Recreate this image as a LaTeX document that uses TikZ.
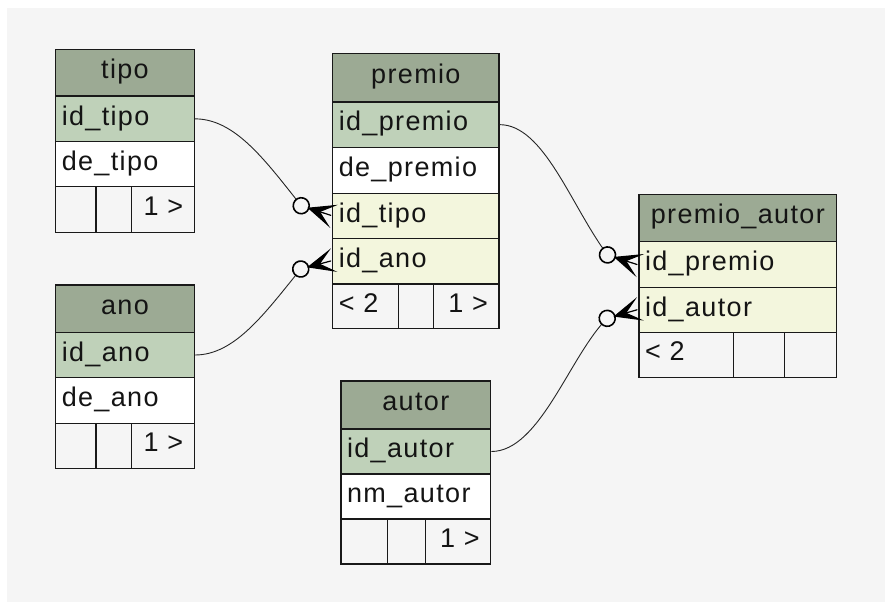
\documentclass[tikz,border=0pt]{standalone}
\usepackage{fontspec}
\setmainfont{Liberation Sans}[LetterSpace=5]
\definecolor{bgc}{HTML}{F5F5F5}
\definecolor{hdrc}{HTML}{9CAA94}
\definecolor{pkc}{HTML}{BFD1B9}
\definecolor{fkc}{HTML}{F3F6DD}
\definecolor{txtc}{HTML}{141414}
\tikzset{
  rowbox/.style={draw=black!90, line width=1.3pt, inner sep=0pt, rectangle},
  hdr/.style={rowbox, fill=hdrc},
  pkrow/.style={rowbox, fill=pkc},
  fkrow/.style={rowbox, fill=fkc},
  attrow/.style={rowbox, fill=white},
  ftrow/.style={rowbox, fill=bgc},
  lbl/.style={inner sep=0pt, text=txtc, font=\fontsize{27}{30}\selectfont},
  htxt/.style={lbl, anchor=base},
  ftxt/.style={lbl, anchor=base west},
  rtxt/.style={lbl, anchor=base east},
  conn/.style={line width=0.9pt, draw=black!85},
  ring/.style={line width=1.6pt, draw=black, fill=bgc},
  crowtip/.style={fill=black, draw=black, line width=1.2pt, line join=miter, line cap=round},
}
\newcommand\ehead[6]{%
  \node[hdr, minimum width={#4-#2}, minimum height={#5-#3}] (#1) at ({(#2+#4)/2},{(#3+#5)/2}) {};
  \node[htxt] (#1-t) at ([yshift=-5.5pt]#1.center) {#6};
}
\newcommand\efield[7]{%
  \node[#6, minimum width={#4-#2}, minimum height={#5-#3}] (#1) at ({(#2+#4)/2},{(#3+#5)/2}) {};
  \node[ftxt] (#1-t) at ([xshift=6.5pt,yshift=-6.2pt]#1.west) {#7};
}
\newcommand\ecell[5]{%
  \node[ftrow, minimum width={#4-#2}, minimum height={#5-#3}] (#1) at ({(#2+#4)/2},{(#3+#5)/2}) {};
}
\newcommand\eend[4]{%
  \begin{scope}[shift={(#2,#3)}, rotate=#4]
    \coordinate (#1) at (-31,0);
  \end{scope}
}
\newcommand\ecrow[3]{%
  \begin{scope}[shift={(#1,#2)}, rotate=#3]
    \draw[ring] (-31,0) circle[radius=8pt];
    \filldraw[crowtip] (-23,0) -- (0,-10) -- (-12,0) -- (0,10) -- cycle;
    \draw[crowtip] (-12,0) -- (0,0);
  \end{scope}
}
\begin{document}
\begin{tikzpicture}[x=1pt, y=-1pt]
\useasboundingbox (0,0) rectangle (885,602);
\fill[white] (0,0) rectangle (885,602);
\fill[bgc] (7,8.4) rectangle (885,602);

% tipo
\ehead{tipo}{55.7}{49.3}{194.3}{96}{tipo}
\efield{tipo-id}{55.7}{96}{194.3}{141.7}{pkrow}{id\_tipo}
\efield{tipo-de}{55.7}{141.7}{194.3}{186.7}{attrow}{de\_tipo}
\ecell{tipo-fa}{55.7}{186.7}{96}{232.3}
\ecell{tipo-fb}{96}{186.7}{131.7}{232.3}
\ecell{tipo-fc}{131.7}{186.7}{194.3}{232.3}
\node[rtxt] (tipo-fc-t) at ([xshift=-11.5pt,yshift=-6pt]tipo-fc.east) {1 >};

% ano
\ehead{ano}{55.7}{285}{194.3}{332.3}{ano}
\efield{ano-id}{55.7}{332.3}{194.3}{377.7}{pkrow}{id\_ano}
\efield{ano-de}{55.7}{377.7}{194.3}{423.3}{attrow}{de\_ano}
\ecell{ano-fa}{55.7}{423.3}{96}{468.3}
\ecell{ano-fb}{96}{423.3}{131.7}{468.3}
\ecell{ano-fc}{131.7}{423.3}{194.3}{468.3}
\node[rtxt] (ano-fc-t) at ([xshift=-11.5pt,yshift=-6pt]ano-fc.east) {1 >};

% premio
\ehead{premio}{332.7}{53.3}{499}{102}{premio}
\efield{premio-id}{332.7}{102}{499}{147.3}{pkrow}{id\_premio}
\efield{premio-de}{332.7}{147.3}{499}{193.3}{attrow}{de\_premio}
\efield{premio-tipo}{332.7}{193.3}{499}{238.3}{fkrow}{id\_tipo}
\efield{premio-ano}{332.7}{238.3}{499}{284}{fkrow}{id\_ano}
\ecell{premio-fa}{332.7}{284}{398.3}{328.3}
\ecell{premio-fb}{398.3}{284}{433.3}{328.3}
\ecell{premio-fc}{433.3}{284}{499}{328.3}
\node[ftxt] (premio-fa-t) at ([xshift=6.5pt,yshift=-6pt]premio-fa.west) {< 2};
\node[rtxt] (premio-fc-t) at ([xshift=-11.5pt,yshift=-6pt]premio-fc.east) {1 >};

% premio_autor
\ehead{pa}{639}{194.3}{836.7}{241.7}{premio\_autor}
\efield{pa-premio}{639}{241.7}{836.7}{287.3}{fkrow}{id\_premio}
\efield{pa-autor}{639}{287.3}{836.7}{332.3}{fkrow}{id\_autor}
\ecell{pa-fa}{639}{332.3}{733.7}{377.3}
\ecell{pa-fb}{733.7}{332.3}{784.3}{377.3}
\ecell{pa-fc}{784.3}{332.3}{836.7}{377.3}
\node[ftxt] (pa-fa-t) at ([xshift=6.5pt,yshift=-6pt]pa-fa.west) {< 2};

% autor
\ehead{autor}{341}{381}{490.7}{429}{autor}
\efield{autor-id}{341}{429}{490.7}{474}{pkrow}{id\_autor}
\efield{autor-nm}{341}{474}{490.7}{519}{attrow}{nm\_autor}
\ecell{autor-fa}{341}{519}{387.7}{564}
\ecell{autor-fb}{387.7}{519}{425.7}{564}
\ecell{autor-fc}{425.7}{519}{490.7}{564}
\node[rtxt] (autor-fc-t) at ([xshift=-11.5pt,yshift=-6pt]autor-fc.east) {1 >};

% connector end points (circle centres)
\eend{e1}{330.7}{215.3}{-18}
\eend{e2}{330.7}{261}{15}
\eend{e3}{637}{264.5}{-18}
\eend{e4}{637}{309.8}{16}

% connectors
\draw[conn] (tipo-id.east) .. controls (235,118.9) and (265,160) .. (e1);
\draw[conn] (ano-id.east) .. controls (235,355) and (265,313) .. (e2);
\draw[conn] (premio-id.east) .. controls (544,124.65) and (571,206) .. (e3);
\draw[conn] (autor-id.east) .. controls (540,451.5) and (570,355) .. (e4);

% crow's feet with rings
\ecrow{330.7}{215.3}{-18}
\ecrow{330.7}{261}{15}
\ecrow{637}{264.5}{-18}
\ecrow{637}{309.8}{16}
\end{tikzpicture}
\end{document}
